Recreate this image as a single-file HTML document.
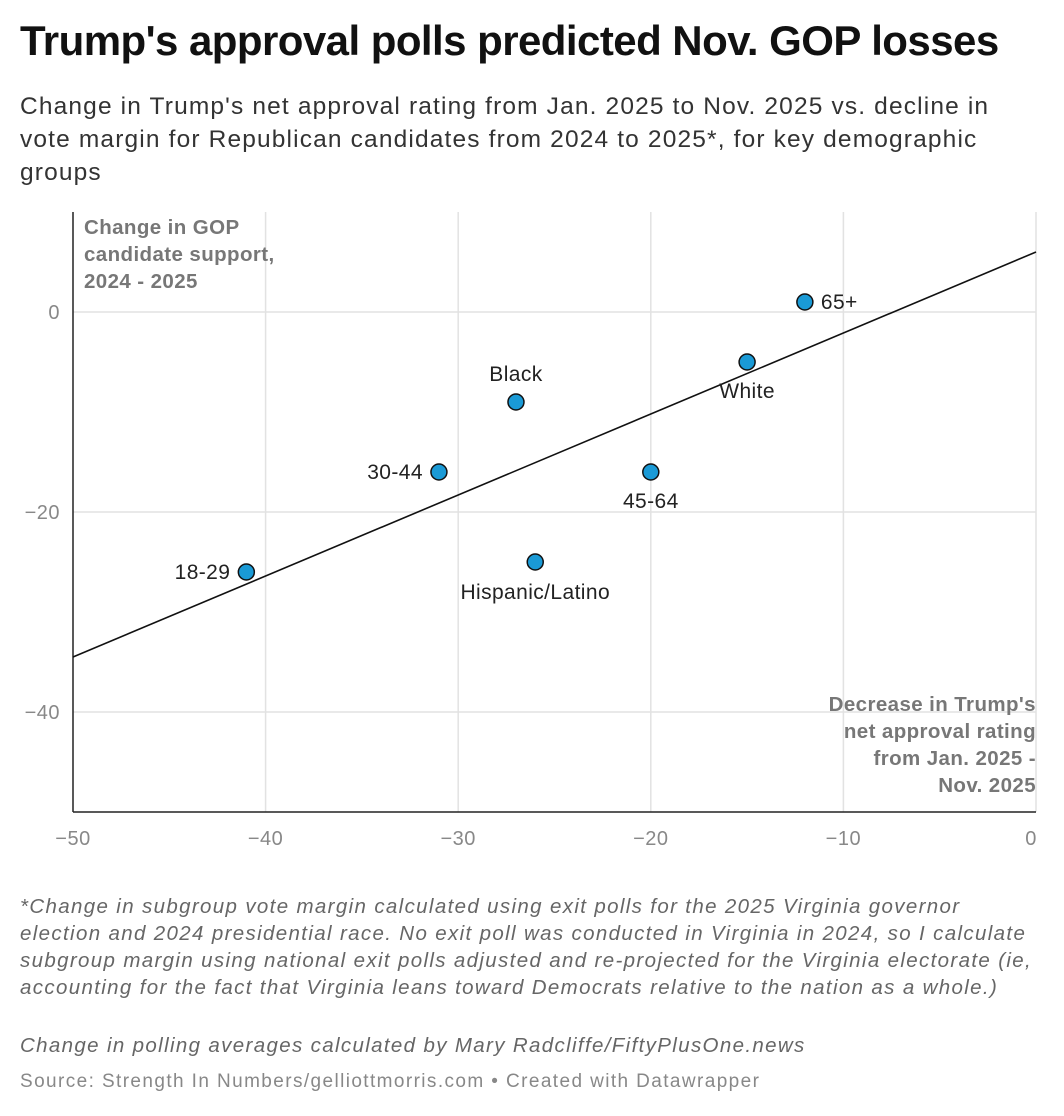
<!DOCTYPE html>
<html><head><meta charset="utf-8">
<style>
body{margin:0;background:#fff;font-family:"Liberation Sans",sans-serif;width:1064px;height:1116px;overflow:hidden;position:relative}
h1{position:absolute;left:20px;top:17px;margin:0;font-size:42px;font-weight:bold;color:#111;letter-spacing:-0.55px;white-space:nowrap}
.sub{position:absolute;left:20px;top:90px;width:1040px;font-size:24.5px;line-height:33px;color:#333;letter-spacing:1.15px;white-space:nowrap}
.note{position:absolute;left:20px;font-size:20.5px;font-style:italic;color:#666;line-height:27px;white-space:nowrap;letter-spacing:1.35px}
.src{position:absolute;left:20px;top:1071px;font-size:19px;color:#888;letter-spacing:1.4px;white-space:nowrap}
svg{position:absolute;left:0;top:0}
</style></head><body>
<h1>Trump's approval polls predicted Nov. GOP losses</h1>
<div class="sub">Change in Trump's net approval rating from Jan. 2025 to Nov. 2025 vs. decline in<br>vote margin for Republican candidates from 2024 to 2025*, for key demographic<br>groups</div>
<svg id="chart" width="1064" height="870"></svg>
<div class="note" style="top:893px">*Change in subgroup vote margin calculated using exit polls for the 2025 Virginia governor<br>election and 2024 presidential race. No exit poll was conducted in Virginia in 2024, so I calculate<br>subgroup margin using national exit polls adjusted and re-projected for the Virginia electorate (ie,<br>accounting for the fact that Virginia leans toward Democrats relative to the nation as a whole.)</div>
<div class="note" style="top:1032px">Change in polling averages calculated by Mary Radcliffe/FiftyPlusOne.news</div>
<div class="src">Source: Strength In Numbers/gelliottmorris.com • Created with Datawrapper</div>
<script>
const labels=["65+","White","Black","30-44","45-64","Hispanic/Latino","18-29"];
const xVals=[-12,-15,-27,-31,-20,-26,-41];
const yVals=[1,-5,-9,-16,-16,-25,-26];
const xTicks=[-50,-40,-30,-20,-10,0];
const yTicks=[0,-20,-40];
const trend=[[-50,-34.5],[0,6]];
const X=v=>73+(v+50)*(1036-73)/50;
const Y=v=>312-v*10;
const svg=document.getElementById('chart');
const NS='http://www.w3.org/2000/svg';
function el(t,a,p){const e=document.createElementNS(NS,t);for(const k in a)e.setAttribute(k,a[k]);(p||svg).appendChild(e);return e;}
xTicks.forEach(t=>{if(t>-50){const l=el('line',{x1:X(t),x2:X(t),y1:212,y2:812,stroke:'#e2e2e2','stroke-width':1.5});

}
const tx=el('text',{x:X(t)+(t===0?-5:0),y:845,'text-anchor':'middle','font-size':20,fill:'#888','letter-spacing':0.5});tx.textContent=t===0?'0':'\u2212'+Math.abs(t);

});
yTicks.forEach(t=>{const l=el('line',{x1:73,x2:1036,y1:Y(t),y2:Y(t),stroke:'#e2e2e2','stroke-width':1.5});


const tx=el('text',{x:60,y:Y(t)+7,'text-anchor':'end','font-size':20,fill:'#888','letter-spacing':0.5});tx.textContent=t===0?'0':'\u2212'+Math.abs(t);

});
let ax=el('line',{x1:73,x2:73,y1:212,y2:812,stroke:'#222','stroke-width':1.5});


ax=el('line',{x1:73,x2:1036,y1:812,y2:812,stroke:'#222','stroke-width':1.5});


const tl=el('line',{x1:X(trend[0][0]),y1:Y(trend[0][1]),x2:X(trend[1][0]),y2:Y(trend[1][1]),stroke:'#111','stroke-width':1.6});


function multi(lines,x,y,anchor,name){const t=el('text',{x:x,y:y,'text-anchor':anchor,'font-size':20.5,'font-weight':'bold',fill:'#777','letter-spacing':0.4});
lines.forEach((s,i)=>{const sp=el('tspan',{x:x,dy:i?27:0},t);sp.textContent=s;});

}
multi(["Change in GOP","candidate support,","2024 - 2025"],84,234,'start','y-axis-title');
multi(["Decrease in Trump's","net approval rating","from Jan. 2025 -","Nov. 2025"],1036,711,'end','x-axis-title');
const off={"65+":[16,7,'start'],"White":[0,36,'middle'],"Black":[0,-21,'middle'],"30-44":[-16,7,'end'],"45-64":[0,36,'middle'],"Hispanic/Latino":[0,37,'middle'],"18-29":[-16,7,'end']};
labels.forEach((n,i)=>{const cx=X(xVals[i]),cy=Y(yVals[i]);
const c=el('circle',{cx:cx,cy:cy,r:8,fill:'#1a9ad6',stroke:'#111','stroke-width':1.5});


const o=off[n];const t=el('text',{x:cx+o[0],y:cy+o[1],'text-anchor':o[2],'font-size':21,fill:'#222','letter-spacing':0.4});t.textContent=n;

});
</script>
</body></html>
